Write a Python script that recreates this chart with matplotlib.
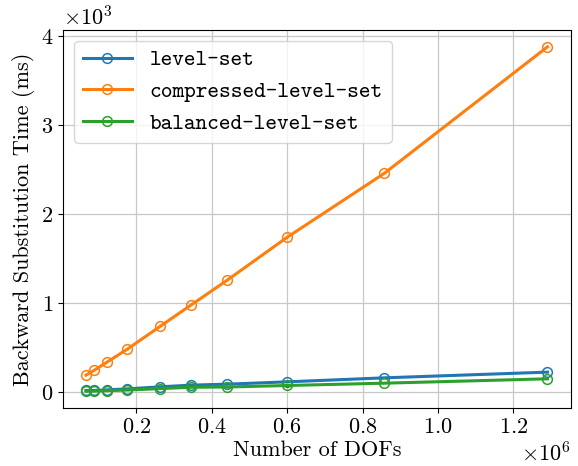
import matplotlib
matplotlib.use('Agg')
import matplotlib.pyplot as plt
from matplotlib.ticker import MultipleLocator
import numpy as np

plt.rcParams['font.family'] = 'serif'
plt.rcParams['font.serif'] = ['cmr10']
plt.rcParams['mathtext.fontset'] = 'cm'
plt.rcParams['axes.formatter.use_mathtext'] = True
plt.rcParams['axes.unicode_minus'] = False

# number of DOFs (x 1e6)
dofs = np.array([0.0668, 0.0889, 0.1225, 0.1764, 0.2631, 0.3453,
                 0.4416, 0.6000, 0.8581, 1.2905]) * 1e6

# backward substitution time (ms)
level_set = [19, 19, 26, 37, 60, 79, 90, 116, 161, 225]
compressed = [191, 247, 337, 483, 738, 978, 1258, 1738, 2457, 3876]
balanced = [10, 12, 17, 24, 40, 55, 58, 75, 101, 150]

labels = ['level-set', 'compressed-level-set', 'balanced-level-set']
colors = ['#1f77b4', '#ff7f0e', '#2ca02c']

fig, ax = plt.subplots(figsize=(5.78, 4.66), dpi=100)

for ys, lab, c in zip([level_set, compressed, balanced], labels, colors):
    ax.plot(dofs, ys, '-o', color=c, label=lab, linewidth=2.2,
            markerfacecolor='none', markersize=7, markeredgewidth=1.1)

ax.set_xlabel('Number of DOFs', fontsize=16, labelpad=2)
ax.set_ylabel('Backward Substitution Time (ms)', fontsize=16)
ax.tick_params(labelsize=16)
ax.ticklabel_format(style='sci', axis='both', scilimits=(0, 0))
ax.yaxis.set_major_locator(MultipleLocator(1000))
ax.xaxis.get_offset_text().set_fontsize(16)
ax.yaxis.get_offset_text().set_fontsize(16)
ax.set_ylim(-180, 4067)
ax.set_xlim(0.0058e6, 1.353e6)
ax.grid(True, color='#c8c8c8', linewidth=0.9)

ax.legend(loc='upper left', prop={'family': 'cmtt10', 'size': 16},
          framealpha=0.8, edgecolor='#cccccc', handlelength=2.2)

fig.subplots_adjust(left=0.109, right=0.988, top=0.936, bottom=0.124)
fig.savefig('out.png', dpi=100)
